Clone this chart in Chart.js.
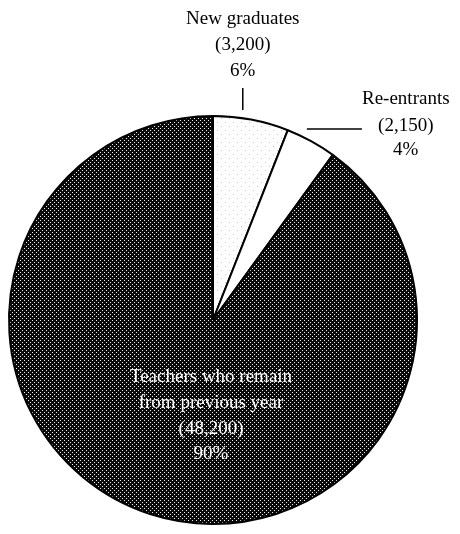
<!DOCTYPE html>
<html>
<head>
<meta charset="utf-8">
<script src="https://cdn.jsdelivr.net/npm/chart.js@4"></script>
<style>
  html, body { margin: 0; padding: 0; background: #ffffff; }
  #wrap { width: 460px; height: 534px; position: relative; }
</style>
</head>
<body>
<div id="wrap"><canvas id="c" width="460" height="534"></canvas></div>
<script>
// ---- data ----
const categories = ['New graduates', 'Re-entrants', 'Teachers who remain from previous year'];
const counts = [3200, 2150, 48200];
const countLabels = ['(3,200)', '(2,150)', '(48,200)'];
const percentLabels = ['6%', '4%', '90%'];
const nameLines = [['New graduates'], ['Re-entrants'], ['Teachers who remain', 'from previous year']];

// ---- fills ----
function makePattern(size, bg, dots, dotColor) {
  const c = document.createElement('canvas');
  c.width = size; c.height = size;
  const x = c.getContext('2d');
  x.fillStyle = bg; x.fillRect(0, 0, size, size);
  x.fillStyle = dotColor;
  dots.forEach(d => x.fillRect(d[0], d[1], 1, 1));
  return x.createPattern(c, 'repeat');
}
const darkFill = makePattern(4, '#0a0a0a', [[0, 0], [2, 2]], '#f0f0f0');
const lightFill = makePattern(8, '#ffffff', [[1, 2], [5, 6]], '#c8c8c8');
const fills = [lightFill, '#ffffff', darkFill];

const FONT = '"Liberation Serif", "Times New Roman", serif';

const labelPlugin = {
  id: 'pieLabels',
  afterDatasetsDraw(chart) {
    const ctx = chart.ctx;
    const arcs = chart.getDatasetMeta(0).data;
    const cx = arcs[0].x, cy = arcs[0].y, R = arcs[0].outerRadius;
    const top = cy - R;
    ctx.save();
    ctx.font = '19px ' + FONT;
    ctx.textAlign = 'center';
    ctx.textBaseline = 'middle';
    ctx.fillStyle = '#000';
    ctx.strokeStyle = '#000';
    ctx.lineWidth = 1.5;

    // New graduates (above the pie)
    const gx = cx + 0.146 * R;
    const g = [nameLines[0][0], countLabels[0], percentLabels[0]];
    [top - 97, top - 71, top - 45].forEach((y, i) => ctx.fillText(g[i], gx, y));
    ctx.beginPath(); ctx.moveTo(gx, top - 28); ctx.lineTo(gx, top - 6); ctx.stroke();

    // Re-entrants (to the upper right)
    const rx = cx + 0.945 * R;
    const r = [nameLines[1][0], countLabels[1], percentLabels[1]];
    [top - 17, top + 10, top + 34].forEach((y, i) => ctx.fillText(r[i], rx, y));
    ctx.beginPath(); ctx.moveTo(cx + 0.46 * R, top + 13); ctx.lineTo(cx + 0.73 * R, top + 13); ctx.stroke();

    // Teachers who remain (inside)
    ctx.fillStyle = '#ffffff';
    const t = [nameLines[2][0], nameLines[2][1], countLabels[2], percentLabels[2]];
    [cy + 57, cy + 83, cy + 109, cy + 134].forEach((y, i) => ctx.fillText(t[i], cx - 2, y));
    ctx.restore();
  }
};

new Chart(document.getElementById('c'), {
  type: 'pie',
  data: {
    labels: categories,
    datasets: [{
      data: counts,
      backgroundColor: fills,
      borderColor: '#000000',
      borderWidth: 2
    }]
  },
  options: {
    responsive: false,
    animation: false,
    layout: { padding: { left: 8, right: 42, top: 115, bottom: 9 } },
    plugins: {
      legend: { display: false },
      tooltip: { enabled: false }
    }
  },
  plugins: [labelPlugin]
});
</script>
</body>
</html>
